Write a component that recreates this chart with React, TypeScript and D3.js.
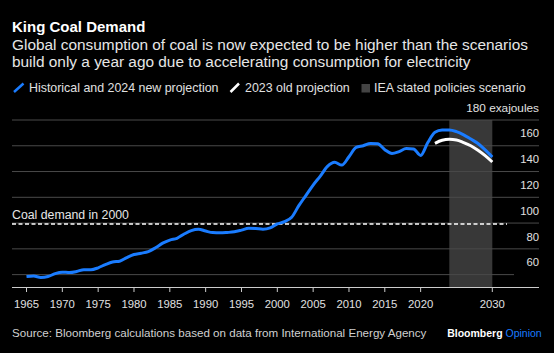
import React from "react";
import * as d3 from "d3";

// Historical and 2024 new projection, one value per year from 1965 (exajoules)
const newStart = 1965;
const newProjection = [
    58.5, 58.9, 57.8, 58.5, 60.8, 61.9, 61.6, 62.4, 63.8, 63.8,
    65.3, 67.8, 69.8, 70.4, 73.2, 75.6, 76.6, 77.9, 80.8, 84.4,
    86.8, 88.2, 91.5, 94.2, 95.2, 93.8, 92.6, 92.4, 92.7, 93.2,
    94.5, 96.0, 95.8, 95.3, 96.3, 99.3, 101.2, 104.5, 113.5, 121.5,
    129.5, 136.5, 144.0, 147.2, 145.0, 151.5, 158.7, 160.0, 161.8, 161.5,
    157.0, 154.0, 155.5, 157.8, 157.5, 152.5, 162.5, 170.5, 172.2, 172.3,
    171.0, 168.5, 165.2, 161.8, 156.8, 151.3,
];

// 2023 old projection, from 2022
const oldStart = 2022;
const oldProjection = [161.9, 164.3, 165.0, 164.5, 162.5, 160.0, 156.5, 152.3, 147.4];

const coal2000 = 99.3;
const scenarioYears = [2024, 2030];

const xTicks = [1965, 1970, 1975, 1980, 1985, 1990, 1995, 2000, 2005, 2010, 2015, 2020, 2030];
const yTicks = [60, 80, 100, 120, 140, 160, 180];

const blue = "#1a7cff";
const font = "'Liberation Sans', Arial, sans-serif";

export default function App() {
    const W = 554;
    const H = 353;
    const left = 12;
    const right = 539;

    const x = d3.scaleLinear().domain([1965, 2030]).range([26.5, 492.3]);
    const y = d3.scaleLinear().domain([50, 180]).range([287.5, 120]);

    const newPath = d3
        .line<number>()
        .x((d, i) => x(newStart + i))
        .y((d) => y(d))
        .curve(d3.curveMonotoneX)(newProjection);

    const oldPath = d3
        .line<number>()
        .x((d, i) => x(oldStart + i))
        .y((d) => y(d))
        .curve(d3.curveMonotoneX)(oldProjection);

    return (
        <svg
            width={W}
            height={H}
            style={{ position: "absolute", left: 0, top: 0, display: "block" }}
            fontFamily={font}
        >
            <rect width={W} height={H} fill="#000" />

            <text x={12} y={31.5} fill="#fff" fontSize={15} fontWeight="bold">
                King Coal Demand
            </text>
            <text x={12} y={49.5} fill="#e6e6e6" fontSize={15.4}>
                Global consumption of coal is now expected to be higher than the scenarios
            </text>
            <text x={12} y={67.3} fill="#e6e6e6" fontSize={15.4}>
                build only a year ago due to accelerating consumption for electricity
            </text>

            {/* legend */}
            <line x1={14} y1={92} x2={23.5} y2={83.5} stroke={blue} strokeWidth={2.5} />
            <text x={29} y={92} fill="#e0e0e0" fontSize={12.4}>
                Historical and 2024 new projection
            </text>
            <line x1={230.5} y1={92} x2={239} y2={83.5} stroke="#fff" strokeWidth={2.5} />
            <text x={245} y={92} fill="#e0e0e0" fontSize={12.4}>
                2023 old projection
            </text>
            <rect x={361.5} y={84} width={8.5} height={8.5} fill="#444" />
            <text x={374} y={92} fill="#e0e0e0" fontSize={12.4}>
                IEA stated policies scenario
            </text>

            {/* scenario band */}
            <rect
                x={x(scenarioYears[0])}
                y={y(180)}
                width={x(scenarioYears[1]) - x(scenarioYears[0])}
                height={y(50) - y(180)}
                fill="#383838"
            />

            {/* grid */}
            {yTicks.map((t) => (
                <g key={t}>
                    <line
                        x1={left}
                        x2={t === 60 ? 514 : right}
                        y1={y(t)}
                        y2={y(t)}
                        stroke="#4a4a4a"
                        strokeWidth={1}
                    />
                    <text
                        x={right}
                        y={y(t) - 8.3}
                        fill="#e0e0e0"
                        fontSize={t === 180 ? 11.8 : 11.3}
                        textAnchor="end"
                    >
                        {t === 180 ? "180 exajoules" : t}
                    </text>
                </g>
            ))}

            {/* coal demand in 2000 */}
            <line
                x1={left}
                x2={507}
                y1={y(coal2000)}
                y2={y(coal2000)}
                stroke="#fff"
                strokeWidth={1.3}
                strokeDasharray="4,2.5"
            />
            <text x={12} y={y(coal2000) - 4.5} fill="#e6e6e6" fontSize={12.3}>
                Coal demand in 2000
            </text>

            {/* x axis */}
            <line x1={left} x2={right} y1={287.5} y2={287.5} stroke="#ccc" strokeWidth={1} />
            {xTicks.map((t) => (
                <g key={t}>
                    <line x1={x(t)} x2={x(t)} y1={287.5} y2={292} stroke="#ccc" strokeWidth={1} />
                    <text x={x(t)} y={308} fill="#e0e0e0" fontSize={11.3} textAnchor="middle">
                        {t}
                    </text>
                </g>
            ))}

            {/* lines */}
            <path d={oldPath || ""} fill="none" stroke="#fff" strokeWidth={3} />
            <path d={newPath || ""} fill="none" stroke={blue} strokeWidth={3} strokeLinejoin="round" />

            {/* footer */}
            <text x={12} y={337.3} fill="#d0d0d0" fontSize={11.6}>
                Source: Bloomberg calculations based on data from International Energy Agency
            </text>
            <text x={541.7} y={337} fontSize={10.5} textAnchor="end">
                <tspan fill="#fff" fontWeight="bold">Bloomberg</tspan>
                <tspan fill={blue}> Opinion</tspan>
            </text>
        </svg>
    );
}
